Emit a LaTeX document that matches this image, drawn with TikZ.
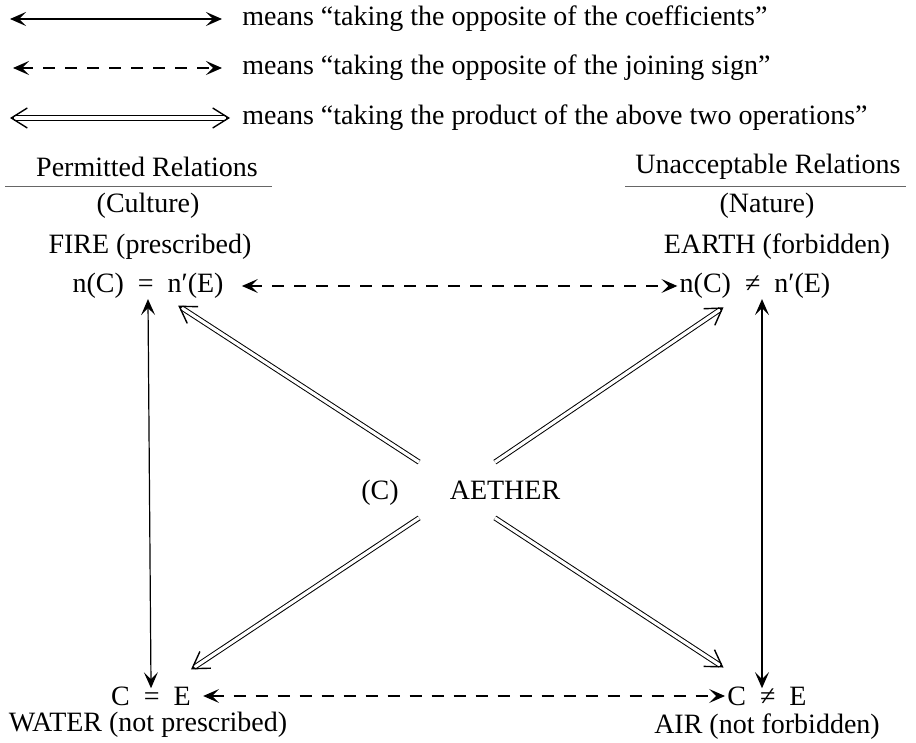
\documentclass[tikz,border=0pt]{standalone}
\usepackage{fontspec}
\setmainfont{Liberation Serif}
\usetikzlibrary{positioning}
\usetikzlibrary{arrows.meta}
\usetikzlibrary{calc}

\begin{document}
\begin{tikzpicture}[
    x=0.5pt, y=-0.5pt,
    every node/.style={font=\fontsize{14}{16}\selectfont, inner sep=1pt},
    oneway/.style={{Stealth[length=8pt,width=7pt,inset=3.5pt]}-{Stealth[length=8pt,width=7pt,inset=3.5pt]}, line width=0.6pt},
    joining/.style={oneway, dash pattern=on 6pt off 5pt},
    product/.style={double, double distance=1.6pt, line width=0.5pt},
    barb/.style={-{Straight Barb[length=8pt,width=10pt]}, line width=0.7pt},
    rule/.style={line width=0.5pt, black!60}
]
\useasboundingbox (0,0) rectangle (916,743);

% Legend
\coordinate (coefA) at (10,19);
\coordinate (coefB) at (222,19);
\coordinate (signA) at (13,68);
\coordinate (signB) at (222,68);
\coordinate (prodA) at (10,118);
\coordinate (prodB) at (230,118);
\node[anchor=west] (legCoef) at (240,19) {means “taking the opposite of the coefficients”};
\node[anchor=west] (legSign) at (240,68) {means “taking the opposite of the joining sign”};
\node[anchor=west] (legProd) at (240,118) {means “taking the product of the above two operations”};
\draw[oneway] (coefA) -- (coefB);
\draw[joining] (signA) -- (signB);
\draw[product, shorten <=2pt, shorten >=2pt] (prodA) -- (prodB);
\draw[barb] ([xshift=2pt]prodA) -- (prodA);
\draw[barb] ([xshift=-2pt]prodB) -- (prodB);

% Headers
\node (permitted) at (147,167) {Permitted Relations};
\node (culture) at (148,206) {(Culture)};
\node (unaccept) at (768,167) {Unacceptable Relations};
\node (nature) at (767,206) {(Nature)};
\draw[rule] (5,187) -- (272,187);
\draw[rule] (625,187) -- (906,187);

% Elements
\node (fire) at (150,247) {FIRE (prescribed)};
\node (fireEq) at (148,286) {n(C)\enspace=\enspace n′(E)};
\node (earth) at (777,247) {EARTH (forbidden)};
\node (earthEq) at (755,286) {n(C)\enspace≠\enspace n′(E)};
\node (waterEq) at (151,696) {C\enspace=\enspace E};
\node (water) at (148,725) {WATER (not prescribed)};
\node (airEq) at (767,696) {C\enspace≠\enspace E};
\node (air) at (767,727) {AIR (not forbidden)};
\node[anchor=base] (aetherC) at (380,499) {(C)};
\node[anchor=base] (aether) at (505,499) {AETHER};
\node[minimum width=37.5pt, minimum height=27.5pt, inner sep=0pt] (hub) at (457,490) {};

% Opposite of the joining sign
\draw[joining, shorten <=8pt] (fireEq.east) -- (earthEq.west);
\draw[joining, shorten <=5pt] (waterEq.east) -- (airEq.west);

% Opposite of the coefficients
\draw[oneway, shorten <=-1pt, shorten >=-2pt] (fireEq.south) -- (waterEq.north);
\draw[oneway, shorten <=-1pt, shorten >=-2pt] ([xshift=-2.5pt]earthEq.south -| airEq.north) -- ([xshift=-2.5pt]airEq.north);

% Product of both
\foreach \corner/\target/\gap in {north west/fireEq/18pt, north east/earthEq/19pt, south west/waterEq/24pt, south east/airEq/26pt}{
  \coordinate (tip) at ($(\target)!\gap!(hub.\corner)$);
  \draw[product, shorten >=2pt] (hub.\corner) -- (tip);
  \draw[barb] ($(tip)!2pt!(hub.\corner)$) -- (tip);
}

\end{tikzpicture}
\end{document}
